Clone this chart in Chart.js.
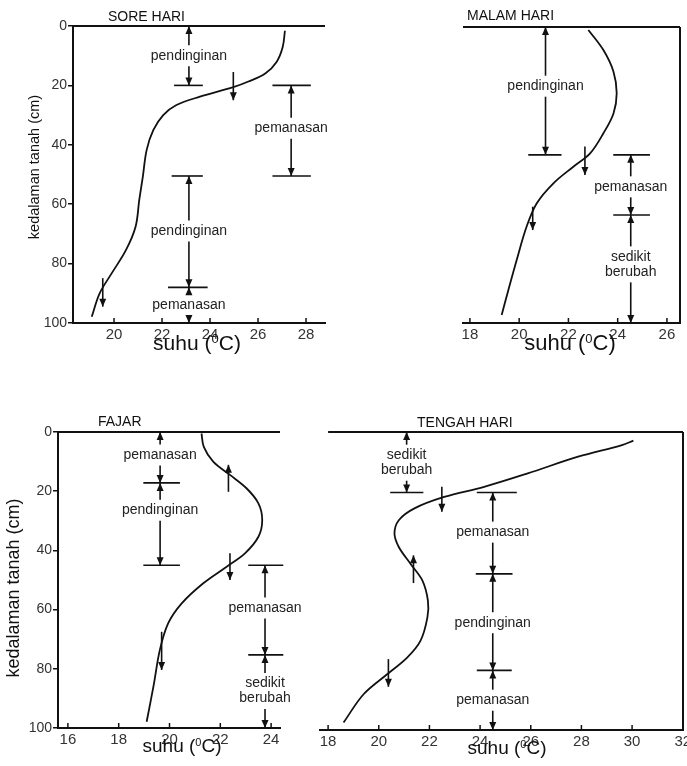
<!DOCTYPE html>
<html>
<head>
<meta charset="utf-8">
<script src="https://cdn.jsdelivr.net/npm/chart.js@4"></script>
<style>
  body { margin: 0; background: #fff; width: 687px; height: 766px; position: relative; overflow: hidden; }
  canvas { position: absolute; }
</style>
</head>
<body>
<canvas id="sore" width="340" height="370" style="left:0;top:0"></canvas>
<canvas id="malam" width="347" height="370" style="left:340px;top:0"></canvas>
<canvas id="fajar" width="320" height="381" style="left:0;top:385px"></canvas>
<canvas id="tengah" width="377" height="381" style="left:310px;top:385px"></canvas>
<script>
// depth axis (cm), shared
const depthTicks = [0, 20, 40, 60, 80, 100];

// SORE HARI
const soreTemp  = [27.12, 27.03, 26.78, 26.3, 25.6, 24.97, 23.58, 22.6, 22.05, 21.64, 21.36, 21.2, 21.05, 20.9, 20.5, 19.9, 19.4, 19.07];
const soreDepth = [1.6, 7, 12, 16, 18.7, 20.6, 23.8, 26.6, 30, 35, 41.7, 50.7, 58.6, 67.5, 75.4, 83.3, 90, 97.9];
const soreXTicks = [20, 22, 24, 26, 28];
const soreZoneTemp = [23.12, 27.38, 23.12, 23.12];
const soreZoneTop = [0, 20, 50.5, 88];
const soreZoneBottom = [20, 50.5, 88, 100];
const soreZoneLabel = ['pendinginan', 'pemanasan', 'pendinginan', 'pemanasan'];
const soreZoneLabelDepth = [10, 34.4, 69, 94];
const soreBarDepth = [20, 20, 50.5, 50.5, 88];
const soreBarFrom = [22.5, 26.6, 22.4, 26.6, 22.25];
const soreBarTo = [23.7, 28.2, 23.7, 28.2, 23.9];
const soreMarkTemp = [24.97, 19.53];
const soreMarkFrom = [15.5, 84.9];
const soreMarkTo = [25, 94.5];
const soreMarkDir = ['down', 'down'];

// MALAM HARI
const malamTemp  = [22.81, 23.42, 23.83, 23.96, 23.83, 23.42, 22.88, 22.2, 21.39, 20.71, 20.3, 19.9, 19.56, 19.29];
const malamDepth = [1, 7.8, 15.1, 22.4, 29.2, 35.9, 42.7, 47.2, 52.8, 59.6, 67.5, 78.7, 88.9, 97.3];
const malamXTicks = [18, 20, 22, 24, 26];
const malamZoneTemp = [21.07, 24.53, 24.53];
const malamZoneTop = [0, 43.2, 63.5];
const malamZoneBottom = [43.2, 63.5, 100];
const malamZoneLabel = ['pendinginan', 'pemanasan', 'sedikit\nberubah'];
const malamZoneLabelDepth = [20, 54, 80.2];
const malamBarDepth = [43.2, 43.2, 63.5];
const malamBarFrom = [20.37, 23.82, 23.82];
const malamBarTo = [21.72, 25.31, 25.31];
const malamMarkTemp = [22.67, 20.55];
const malamMarkFrom = [40.4, 60.7];
const malamMarkTo = [50, 68.6];
const malamMarkDir = ['down', 'down'];

// FAJAR
const fajarTemp  = [21.26, 21.35, 21.72, 22.38, 23.03, 23.5, 23.65, 23.5, 22.97, 22.25, 21.33, 20.48, 19.95, 19.62, 19.39, 19.1];
const fajarDepth = [0.5, 5, 10, 14.5, 19, 24.1, 29.7, 35.4, 41, 45.5, 51.1, 57.9, 64.6, 73.6, 84.9, 97.9];
const fajarXTicks = [16, 18, 20, 22, 24];
const fajarZoneTemp = [19.63, 19.63, 23.76, 23.76];
const fajarZoneTop = [0, 17.2, 45, 75.3];
const fajarZoneBottom = [17.2, 45, 75.3, 100];
const fajarZoneLabel = ['pemanasan', 'pendinginan', 'pemanasan', 'sedikit\nberubah'];
const fajarZoneLabelDepth = [7.8, 26.4, 59.5, 87.5];
const fajarBarDepth = [17.2, 45, 45, 75.3];
const fajarBarFrom = [18.97, 18.97, 23.1, 23.1];
const fajarBarTo = [20.41, 20.41, 24.48, 24.48];
const fajarMarkTemp = [22.32, 22.38, 19.69];
const fajarMarkFrom = [11.1, 41, 67.5];
const fajarMarkTo = [20.2, 50, 80.4];
const fajarMarkDir = ['up', 'down', 'down'];

// TENGAH HARI
const tengahTemp  = [30.05, 29.6, 27.87, 25.88, 24.16, 22.58, 21.39, 20.79, 20.62, 20.79, 21.25, 21.72, 21.94, 21.92, 21.65, 21.12, 20.33, 19.4, 18.61];
const tengahDepth = [2.9, 4.4, 8.3, 13.9, 18.4, 21.8, 25.7, 29.6, 34.1, 38.6, 44.2, 49.8, 56.6, 62.2, 70, 75.7, 81.3, 88, 97.5];
const tengahXTicks = [18, 20, 22, 24, 26, 28, 30, 32];
const tengahZoneTemp = [21.1, 24.5, 24.5, 24.5];
const tengahZoneTop = [0, 20.3, 47.6, 80];
const tengahZoneBottom = [20.3, 47.6, 80, 100];
const tengahZoneLabel = ['sedikit\nberubah', 'pemanasan', 'pendinginan', 'pemanasan'];
const tengahZoneLabelDepth = [10.3, 33.6, 64, 90];
const tengahBarDepth = [20.3, 20.3, 47.6, 80];
const tengahBarFrom = [20.45, 23.87, 23.83, 23.87];
const tengahBarTo = [21.76, 25.45, 25.28, 25.25];
const tengahMarkTemp = [22.49, 21.37, 20.38];
const tengahMarkFrom = [18.4, 41.4, 76.2];
const tengahMarkTo = [26.8, 50.7, 85.5];
const tengahMarkDir = ['down', 'up', 'down'];

const FONT = "'Liberation Sans', Arial, sans-serif";
const INK = '#111';

function seg(ctx, x1, y1, x2, y2) {
  ctx.beginPath();
  ctx.moveTo(x1, y1);
  ctx.lineTo(x2, y2);
  ctx.stroke();
}

// filled arrow head, tip at (px, py); dir 1 = pointing down, -1 = up
function head(ctx, px, py, dir) {
  ctx.beginPath();
  ctx.moveTo(px, py);
  ctx.lineTo(px - 3.5, py - dir * 8);
  ctx.lineTo(px + 3.5, py - dir * 8);
  ctx.closePath();
  ctx.fill();
}

// "suhu (0C)" with a raised small zero, drawn on its baseline
function unitTitle(ctx, cx, base, size) {
  const big = size + 'px ' + FONT, small = Math.round(size * 0.6) + 'px ' + FONT;
  ctx.font = big;
  const w1 = ctx.measureText('suhu (').width, w3 = ctx.measureText('C)').width;
  ctx.font = small;
  const w2 = ctx.measureText('0').width;
  const x0 = cx - (w1 + w2 + w3) / 2;
  ctx.textAlign = 'left';
  ctx.textBaseline = 'alphabetic';
  ctx.font = big;
  ctx.fillText('suhu (', x0, base);
  ctx.font = small;
  ctx.fillText('0', x0 + w1, base - size * 0.33);
  ctx.font = big;
  ctx.fillText('C)', x0 + w1 + w2, base);
}

function buildPanel(id, L, d) {
  const plugin = {
    id: 'soil_' + id,
    afterDraw(chart) {
      const { ctx, chartArea: a, scales: { x, y } } = chart;
      const X = v => x.getPixelForValue(v), Y = v => y.getPixelForValue(v);
      ctx.save();
      ctx.strokeStyle = INK;
      ctx.fillStyle = INK;

      // frame: ground surface line, right border
      ctx.lineWidth = 2;
      seg(ctx, L.topFrom != null ? X(L.topFrom) : a.left, a.top, a.right, a.top);
      if (L.rightLine) seg(ctx, a.right, a.top, a.right, a.bottom);

      // tick marks sitting on the temperature axis
      ctx.lineWidth = 1.5;
      d.xTicks.forEach(v => seg(ctx, X(v), a.bottom - 5, X(v), a.bottom + 1));

      // horizontal limit bars
      ctx.lineWidth = 1.6;
      d.barDepth.forEach((dp, i) => seg(ctx, X(d.barFrom[i]), Y(dp), X(d.barTo[i]), Y(dp)));

      // zones: double arrows with label in the gap
      ctx.font = '14px ' + FONT;
      ctx.textAlign = 'center';
      ctx.textBaseline = 'middle';
      d.zoneTemp.forEach((t, i) => {
        const px = X(t), yt = Y(d.zoneTop[i]), yb = Y(d.zoneBottom[i]), ym = Y(d.zoneLabelDepth[i]);
        const lines = d.zoneLabel[i].split('\n');
        const half = lines.length * 15 / 2 + 3;
        seg(ctx, px, yt, px, ym - half);
        seg(ctx, px, ym + half, px, yb);
        head(ctx, px, yt, -1);
        head(ctx, px, yb, 1);
        ctx.fillStyle = '#222';
        lines.forEach((s, k) => ctx.fillText(s, px, ym - (lines.length - 1) * 7.5 + k * 15));
        ctx.fillStyle = INK;
      });

      // small arrows on the curve
      d.markTemp.forEach((t, i) => {
        const px = X(t), y1 = Y(d.markFrom[i]), y2 = Y(d.markTo[i]);
        seg(ctx, px, y1, px, y2);
        if (d.markDir[i] === 'down') head(ctx, px, y2, 1); else head(ctx, px, y1, -1);
      });

      // texts
      ctx.textAlign = 'left';
      ctx.textBaseline = 'middle';
      ctx.font = '14px ' + FONT;
      ctx.fillText(L.title, L.titleX, L.titleY);
      unitTitle(ctx, L.xTitleX, L.xTitleBase, L.xTitleSize);
      if (L.yTitleSize) {
        ctx.save();
        ctx.translate(L.yTitleX, L.yTitleY);
        ctx.rotate(-Math.PI / 2);
        ctx.textAlign = 'center';
        ctx.textBaseline = 'middle';
        ctx.font = L.yTitleSize + 'px ' + FONT;
        ctx.fillText('kedalaman tanah (cm)', 0, 0);
        ctx.restore();
      }
      ctx.restore();
    }
  };

  new Chart(document.getElementById(id), {
    type: 'scatter',
    data: {
      datasets: [{
        data: d.temp.map((t, i) => ({ x: t, y: d.depth[i] })),
        showLine: true,
        borderColor: INK,
        borderWidth: 1.8,
        pointRadius: 0,
        tension: 0.35,
        fill: false
      }]
    },
    options: {
      responsive: false,
      animation: false,
      devicePixelRatio: 1,
      layout: { padding: { left: 0, top: L.area[1], right: L.w - L.area[2], bottom: 0 } },
      plugins: { legend: { display: false }, tooltip: { enabled: false } },
      scales: {
        x: {
          type: 'linear', min: L.xr[0], max: L.xr[1],
          afterBuildTicks: s => { s.ticks = d.xTicks.map(v => ({ value: v })); },
          afterFit: s => { s.height = L.h - L.area[3]; s.paddingLeft = 0; s.paddingRight = 0; },
          grid: { drawOnChartArea: false, drawTicks: false },
          border: { display: true, color: INK, width: 2 },
          ticks: { autoSkip: false, maxRotation: 0, padding: 3, color: '#333', font: { family: FONT, size: 15 } }
        },
        y: {
          type: 'linear', reverse: true, min: 0, max: 100, display: L.yAxis,
          afterBuildTicks: s => { s.ticks = depthTicks.map(v => ({ value: v })); },
          // the depth box sets the left edge of the plot, shown or not
          afterFit: s => { s.width = L.area[0]; s.paddingTop = 0; s.paddingBottom = 0; },
          grid: { drawOnChartArea: false, drawTicks: true, tickLength: 5, color: INK, lineWidth: 1.5 },
          border: { display: true, color: INK, width: 2 },
          ticks: { padding: 1, color: '#333', font: { family: FONT, size: 14 } }
        }
      }
    },
    plugins: [plugin]
  });
}

buildPanel('sore',
  { w: 340, h: 370, area: [73, 26, 325, 323], xr: [18.29, 28.79], yAxis: true, rightLine: false,
    title: 'SORE HARI', titleX: 108, titleY: 17, xTitleX: 197, xTitleBase: 350, xTitleSize: 21,
    yTitleX: 35, yTitleY: 167, yTitleSize: 14.5 },
  { temp: soreTemp, depth: soreDepth, xTicks: soreXTicks,
    zoneTemp: soreZoneTemp, zoneTop: soreZoneTop, zoneBottom: soreZoneBottom, zoneLabel: soreZoneLabel, zoneLabelDepth: soreZoneLabelDepth,
    barDepth: soreBarDepth, barFrom: soreBarFrom, barTo: soreBarTo,
    markTemp: soreMarkTemp, markFrom: soreMarkFrom, markTo: soreMarkTo, markDir: soreMarkDir });

buildPanel('malam',
  { w: 347, h: 370, area: [123, 27, 340, 323], xr: [17.72, 26.53], yAxis: false, rightLine: true,
    title: 'MALAM HARI', titleX: 127, titleY: 16, xTitleX: 230, xTitleBase: 350, xTitleSize: 22 },
  { temp: malamTemp, depth: malamDepth, xTicks: malamXTicks,
    zoneTemp: malamZoneTemp, zoneTop: malamZoneTop, zoneBottom: malamZoneBottom, zoneLabel: malamZoneLabel, zoneLabelDepth: malamZoneLabelDepth,
    barDepth: malamBarDepth, barFrom: malamBarFrom, barTo: malamBarTo,
    markTemp: malamMarkTemp, markFrom: malamMarkFrom, markTo: malamMarkTo, markDir: malamMarkDir });

buildPanel('fajar',
  { w: 320, h: 381, area: [58, 47, 280, 343], xr: [15.61, 24.35], yAxis: true, rightLine: false,
    title: 'FAJAR', titleX: 98, titleY: 37, xTitleX: 182, xTitleBase: 367, xTitleSize: 19,
    yTitleX: 14, yTitleY: 203, yTitleSize: 18 },
  { temp: fajarTemp, depth: fajarDepth, xTicks: fajarXTicks,
    zoneTemp: fajarZoneTemp, zoneTop: fajarZoneTop, zoneBottom: fajarZoneBottom, zoneLabel: fajarZoneLabel, zoneLabelDepth: fajarZoneLabelDepth,
    barDepth: fajarBarDepth, barFrom: fajarBarFrom, barTo: fajarBarTo,
    markTemp: fajarMarkTemp, markFrom: fajarMarkFrom, markTo: fajarMarkTo, markDir: fajarMarkDir });

buildPanel('tengah',
  { w: 377, h: 381, area: [10, 47, 373, 345], xr: [17.68, 32.01], yAxis: false, rightLine: true, topFrom: 18,
    title: 'TENGAH HARI', titleX: 107, titleY: 38, xTitleX: 197, xTitleBase: 369, xTitleSize: 19 },
  { temp: tengahTemp, depth: tengahDepth, xTicks: tengahXTicks,
    zoneTemp: tengahZoneTemp, zoneTop: tengahZoneTop, zoneBottom: tengahZoneBottom, zoneLabel: tengahZoneLabel, zoneLabelDepth: tengahZoneLabelDepth,
    barDepth: tengahBarDepth, barFrom: tengahBarFrom, barTo: tengahBarTo,
    markTemp: tengahMarkTemp, markFrom: tengahMarkFrom, markTo: tengahMarkTo, markDir: tengahMarkDir });
</script>
</body>
</html>
